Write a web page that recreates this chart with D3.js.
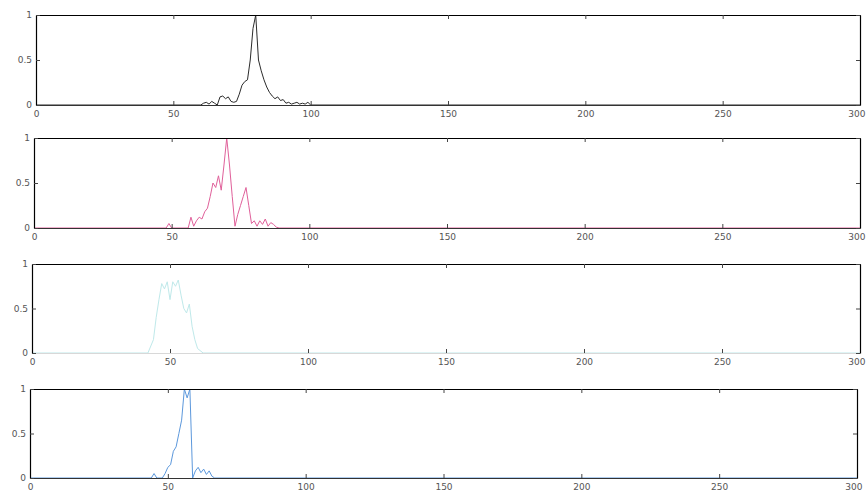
<!DOCTYPE html>
<html>
<head>
<meta charset="utf-8">
<title>four spectra</title>
<style>
  body { margin: 0; background: #fff; }
  svg { display: block; }
  .tick text { font-family: "DejaVu Sans", sans-serif; font-size: 9px; fill: #555; }
</style>
</head>
<body>
<main></main>
<script src="https://cdn.jsdelivr.net/npm/d3@7"></script>
<script>
// data ==============================
var xTicks = [0, 50, 100, 150, 200, 250, 300];
var yTicks = [0, 0.5, 1];

// panel 1 (black)
var blackX = [0, 60, 61, 62, 63, 64, 65, 66, 67, 68, 69, 70, 71, 72, 73, 74, 75, 76, 77, 78, 79, 80, 81, 82, 83, 84, 85, 86, 87, 88, 89, 90, 91, 92, 93, 94, 95, 96, 97, 98, 99, 100, 300];
var blackY = [0, 0, 0.02, 0.03, 0.01, 0.04, 0.02, 0, 0.09, 0.1, 0.07, 0.09, 0.04, 0.03, 0.04, 0.12, 0.22, 0.26, 0.28, 0.5, 0.85, 1.0, 0.5, 0.38, 0.28, 0.2, 0.14, 0.1, 0.07, 0.09, 0.05, 0.06, 0.02, 0.03, 0.01, 0.02, 0.03, 0.01, 0.02, 0.01, 0.03, 0, 0];

// panel 2 (magenta)
var pinkX = [0, 48, 49, 50, 56, 57, 58, 59, 60, 61, 62, 63, 64, 65, 66, 67, 68, 69, 70, 71, 72, 73, 74, 75, 76, 77, 78, 79, 80, 81, 82, 83, 84, 85, 86, 87, 88, 89, 300];
var pinkY = [0, 0, 0.05, 0, 0, 0.12, 0.02, 0.08, 0.12, 0.1, 0.18, 0.22, 0.35, 0.5, 0.45, 0.58, 0.42, 0.7, 1.0, 0.7, 0.35, 0.02, 0.15, 0.25, 0.35, 0.45, 0.25, 0.05, 0.08, 0.02, 0.08, 0.04, 0.1, 0.02, 0.06, 0.04, 0.01, 0, 0];

// panel 3 (light cyan)
var cyanX = [0, 42, 44, 45, 46, 47, 48, 49, 50, 51, 52, 53, 54, 55, 56, 57, 58, 59, 60, 62, 300];
var cyanY = [0, 0, 0.15, 0.4, 0.6, 0.78, 0.72, 0.8, 0.6, 0.8, 0.75, 0.82, 0.65, 0.5, 0.45, 0.55, 0.3, 0.15, 0.05, 0, 0];

// panel 4 (blue)
var blueX = [0, 44, 45, 46, 48, 49, 50, 51, 52, 53, 54, 55, 56, 57, 58, 59, 60, 61, 62, 63, 64, 65, 66, 67, 300];
var blueY = [0, 0, 0.05, 0, 0, 0.05, 0.12, 0.15, 0.3, 0.35, 0.5, 0.65, 1.0, 0.9, 1.0, 0, 0.08, 0.12, 0.06, 0.1, 0.04, 0.08, 0.02, 0, 0];

// layout =============================
var width = 866, height = 504;
var panels = [
  {xs: blackX, ys: blackY, color: "#2b2b2b", left: 36, right: 860, top: 15, bottom: 105, base: "#333"},
  {xs: pinkX,  ys: pinkY,  color: "#e0609a", left: 34, right: 860, top: 138, bottom: 228, base: "#333"},
  {xs: cyanX,  ys: cyanY,  color: "#bfe9ea", left: 32, right: 860, top: 264, bottom: 353, base: "#d8d8d8"},
  {xs: blueX,  ys: blueY,  color: "#5c98dc", left: 30, right: 857, top: 389, bottom: 478, base: "#333"}
];

var svg = d3.select("main").append("svg")
  .attr("width", width)
  .attr("height", height);

panels.forEach(function (p) {
  var x = d3.scaleLinear().domain([0, 300]).range([p.left, p.right]);
  var y = d3.scaleLinear().domain([0, 1]).range([p.bottom, p.top]);
  var g = svg.append("g");

  // series line
  var pts = p.xs.map(function (v, i) { return [v, p.ys[i]]; });
  g.append("path")
    .datum(pts)
    .attr("fill", "none")
    .attr("stroke", p.color)
    .attr("stroke-width", 1)
    .attr("d", d3.line().x(function (d) { return x(d[0]); }).y(function (d) { return y(d[1]); }));

  // axes, matlab style (ticks inside, box all round)
  var bottom = g.append("g")
    .attr("transform", "translate(0," + p.bottom + ")")
    .call(d3.axisBottom(x).tickValues(xTicks).tickSize(-4).tickSizeOuter(0).tickPadding(6).tickFormat(d3.format("d")));
  bottom.select(".domain").attr("stroke", p.base);
  // last label sits against the page edge, pull it in
  bottom.selectAll(".tick text")
    .filter(function (d) { return d === 300; })
    .attr("text-anchor", "end")
    .attr("dx", 5);

  g.append("g")
    .attr("transform", "translate(0," + p.top + ")")
    .call(d3.axisTop(x).tickValues(xTicks).tickSize(-4).tickSizeOuter(0).tickFormat(""));

  g.append("g")
    .attr("transform", "translate(" + p.left + ",0)")
    .call(d3.axisLeft(y).tickValues(yTicks).tickSize(-4).tickSizeOuter(0).tickPadding(4).tickFormat(d3.format("")));

  g.append("g")
    .attr("transform", "translate(" + p.right + ",0)")
    .call(d3.axisRight(y).tickValues(yTicks).tickSize(-4).tickSizeOuter(0).tickFormat(""));

  g.selectAll(".domain").attr("stroke-width", 1.2);
  g.selectAll(".tick line").attr("stroke", "#444");
});
</script>
</body>
</html>
